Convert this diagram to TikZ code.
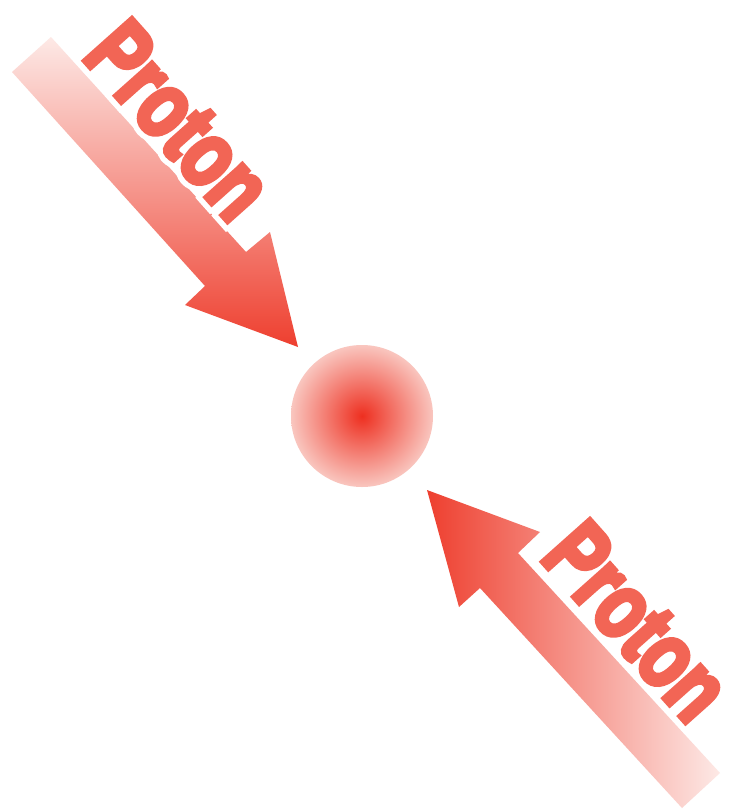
\documentclass[tikz,border=0pt]{standalone}
\usepackage{fontspec}
\newfontfamily\protonred[FakeBold=6]{Liberation Sans Bold}
\newfontfamily\protonwhite[FakeBold=18]{Liberation Sans Bold}
\definecolor{txtred}{HTML}{F26555}
\definecolor{tipred}{HTML}{EE3F2F}
\definecolor{tailpink}{HTML}{FDE9E6}
\definecolor{corered}{HTML}{EE2F20}
\definecolor{rimpink}{HTML}{F9C6BF}
\tikzset{
  protonlabel/.style={inner sep=0pt, anchor=base, rotate=-48.3, xscale=0.76, font=\fontsize{92}{92}\selectfont},
}
\begin{document}
\begin{tikzpicture}[x=1pt,y=-1pt]
\useasboundingbox (0,0) rectangle (734,812);
\fill[white] (0,0) rectangle (734,812);
% upper-left arrow
\path[top color=tailpink, bottom color=tipred]
  (12,72) -- (205,286) -- (185,305) -- (298,347) -- (270,232) -- (246,252) -- (51,37) -- cycle;
% lower-right arrow
\path[left color=tipred, right color=tailpink]
  (427,490) -- (459,607) -- (480,588) -- (682,808) -- (720,773) -- (518,553) -- (540,532) -- cycle;
% collision
\node[circle, minimum size=142pt, inner sep=0pt, inner color=corered, outer color=rimpink] (core) at (362,416) {};
% labels
\node[protonlabel, text=white] (lw1) at (156,141) {\protonwhite Proton};
\node[protonlabel, text=txtred] (l1) at (156,141) {\protonred Proton};
\node[protonlabel, text=white] (lw2) at (614,642) {\protonwhite Proton};
\node[protonlabel, text=txtred] (l2) at (614,642) {\protonred Proton};
\end{tikzpicture}
\end{document}
